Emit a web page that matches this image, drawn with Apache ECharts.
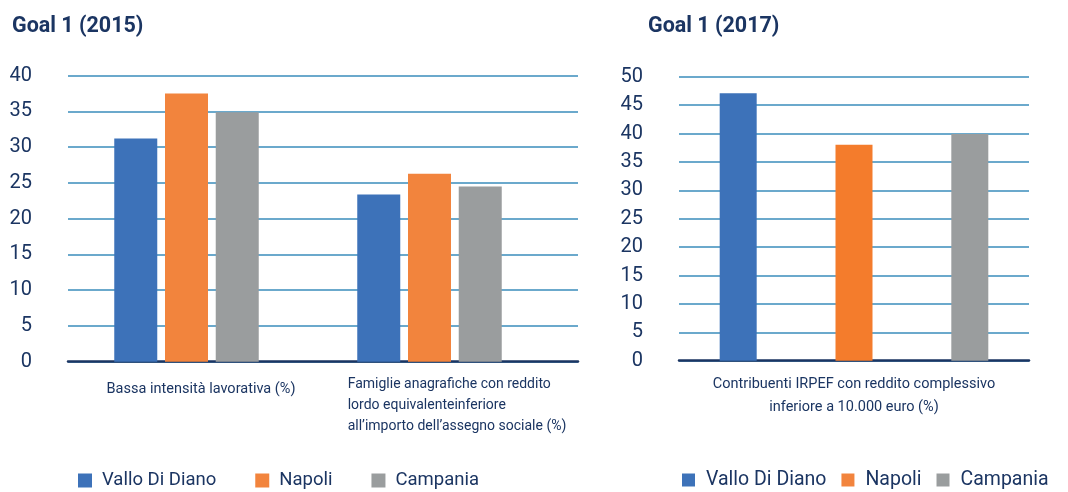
<!DOCTYPE html>
<html>
<head>
<meta charset="utf-8">
<script src="https://cdn.jsdelivr.net/npm/echarts@6/dist/echarts.min.js"></script>
<style>
    html, body {margin: 0; padding: 0; background: #fff;}
    #chart {width: 1068px; height: 492px;}
</style>
</head>
<body>
<div id="chart"></div>
<script>
// Goal 1 (2015)
const categories2015 = [
    'Bassa intensità lavorativa (%)',
    'Famiglie anagrafiche con reddito\nlordo equivalenteinferiore\nall’importo dell’assegno sociale (%)',
]
const vallo2015 = [31.2, 23.4]
const napoli2015 = [37.5, 26.3]
const campania2015 = [34.9, 24.5]

// Goal 1 (2017)
const categories2017 = ['Contribuenti IRPEF con reddito complessivo\ninferiore a 10.000 euro (%)']
const vallo2017 = [47.1]
const napoli2017 = [38.0]
const campania2017 = [39.9]

const seriesNames = ['Vallo Di Diano', 'Napoli', 'Campania']
const colors = ['#3d72b9', '#f2843d', '#9a9d9e']

const navy = '#1b3562'
const gridBlue = '#3a8cbb'
const font = 'Roboto'

const chart = echarts.init(document.getElementById('chart'))

const yAxisBase = (max, show, gridIndex) => ({
    type: 'value',
    gridIndex,
    min: 0,
    max,
    interval: 5,
    axisLine: {show: false},
    axisTick: {show: false},
    axisLabel: {
        show,
        fontFamily: font,
        fontSize: 20,
        color: navy,
        margin: 36,
        align: 'right',
    },
    splitLine: {
        show,
        lineStyle: {color: gridBlue, width: 1.5},
    },
})

const leftData = [vallo2015, napoli2015, campania2015]
const rightData = [vallo2017, napoli2017, campania2017]

chart.setOption({
    animation: false,
    color: colors,
    title: [
        {
            text: 'Goal 1 (2015)',
            left: 7,
            top: 11,
            textStyle: {fontFamily: font, fontWeight: 'bold', fontSize: 21.5, color: navy},
        },
        {
            text: 'Goal 1 (2017)',
            left: 643,
            top: 11,
            textStyle: {fontFamily: font, fontWeight: 'bold', fontSize: 21.5, color: navy},
        },
    ],
    legend: [
        {
            data: seriesNames,
            left: 78,
            top: 471,
            padding: 0,
            itemWidth: 14,
            itemHeight: 14,
            itemGap: 39,
            icon: 'rect',
            textStyle: {fontFamily: font, fontSize: 18.5, color: navy, padding: [0, 0, 0, 5]},
        },
        {
            data: seriesNames,
            left: 682,
            top: 470,
            padding: 0,
            itemWidth: 13,
            itemHeight: 13,
            itemGap: 15,
            icon: 'rect',
            textStyle: {fontFamily: font, fontSize: 19.5, color: navy, padding: [0, 0, 0, 6]},
        },
    ],
    grid: [
        // left: gridlines + baseline
        {left: 68, right: 490, top: 75.7, bottom: 130.3},
        // left: bars + category labels
        {left: 65, width: 486, top: 75.7, bottom: 130.3},
        // right
        {left: 679, right: 39, top: 76.7, bottom: 131.3},
    ],
    xAxis: [
        {
            type: 'category',
            gridIndex: 0,
            data: categories2015,
            axisLine: {show: true, lineStyle: {color: navy, width: 2.5}},
            axisTick: {show: false},
            axisLabel: {show: false},
        },
        {
            type: 'category',
            gridIndex: 1,
            data: categories2015,
            axisLine: {show: false},
            axisTick: {show: false},
            axisLabel: {
                interval: 0,
                margin: 12,
                formatter: (value, idx) =>
                    idx === 0
                        ? '{one|' + value + '}'
                        : value.split('\n').map(s => '{multi|' + s + '}').join('\n'),
                rich: {
                    one: {fontFamily: font, fontSize: 14.5, lineHeight: 21, color: navy, padding: [10, 0, 0, 29]},
                    multi: {fontFamily: font, fontSize: 14, lineHeight: 21, color: navy, align: 'left', padding: [0, 0, 0, 55]},
                },
            },
        },
        {
            type: 'category',
            gridIndex: 2,
            data: categories2017,
            axisLine: {show: true, lineStyle: {color: navy, width: 2.5}},
            axisTick: {show: false},
            axisLabel: {
                interval: 0,
                margin: 12,
                fontFamily: font,
                fontSize: 14.5,
                lineHeight: 23,
                color: navy,
            },
        },
    ],
    yAxis: [yAxisBase(40, true, 0), yAxisBase(40, false, 1), yAxisBase(50, true, 2)],
    series: [
        ...seriesNames.map((name, i) => ({
            name,
            type: 'bar',
            xAxisIndex: 1,
            yAxisIndex: 1,
            data: leftData[i],
            barWidth: 43,
            barGap: '18%',
            itemStyle: {color: colors[i]},
        })),
        ...seriesNames.map((name, i) => ({
            name,
            type: 'bar',
            xAxisIndex: 2,
            yAxisIndex: 2,
            data: rightData[i],
            barWidth: 37,
            barGap: '213%',
            itemStyle: {color: i === 1 ? '#f47c2c' : colors[i]},
        })),
    ],
})
</script>
</body>
</html>
